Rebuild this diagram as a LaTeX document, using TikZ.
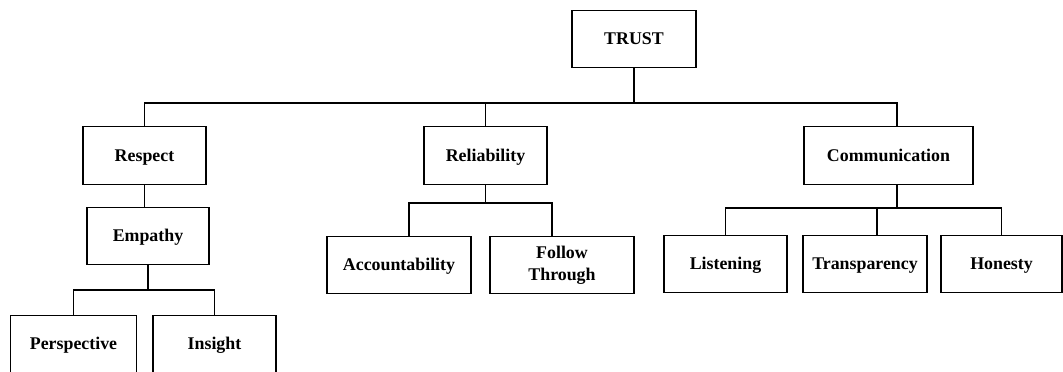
\documentclass[tikz,border=0pt]{standalone}
\usepackage{fontspec}
\setmainfont{Liberation Serif}
\usetikzlibrary{calc}

\begin{document}
\begin{tikzpicture}[x=0.025cm, y=-0.025cm,
  box/.style={draw, line width=0.8pt, minimum height=1.43cm, inner sep=2pt,
    font=\fontsize{12.7}{15.6}\selectfont\bfseries, align=center,
    text height=1.0em, text depth=0.16em},
  link/.style={line width=0.8pt}]
\useasboundingbox (0,0) rectangle (1063,371);

% top level
\node[box, minimum width=3.1cm] (trust) at (634,39) {TRUST};

% second level
\node[box, minimum width=3.075cm] (respect) at (144.5,155.5) {Respect};
\node[box, minimum width=3.075cm] (reliab) at (485.5,155.5) {Reliability};
\node[box, minimum width=4.225cm] (comm) at (888.5,155.5) {Communication};

% third level
\node[box, minimum width=3.05cm] (empathy) at (148,236) {Empathy};
\node[box, minimum width=3.6cm] (acc) at (399,265) {Accountability};
\node[box, minimum width=3.6cm, text height=, text depth=] (follow) at (562,265) {Follow\\Through};
\node[box, minimum width=3.075cm] (listen) at (725.5,264) {Listening};
\node[box, minimum width=3.1cm] (transp) at (865,264) {Transparency};
\node[box, minimum width=3.025cm] (honesty) at (1001.5,264) {Honesty};

% fourth level
\node[box, minimum width=3.15cm] (persp) at (73.5,344) {Perspective};
\node[box, minimum width=3.075cm] (insight) at (214.5,344) {Insight};

% bars
\coordinate (bar) at (0,103);
\coordinate (ebar) at (0,290);
\coordinate (rbar) at (0,203);
\coordinate (cbar) at (0,208);

\draw[link] (trust.south) -- (trust.south |- bar);
\draw[link] (respect.north) -- (respect.north |- bar) -- ($(comm.north |- bar)+(8.5,0)$) -- ($(comm.north)+(8.5,0)$);
\draw[link] (reliab.north) -- (reliab.north |- bar);

\draw[link] (respect.south) -- (empathy.north -| respect.south);
\draw[link] (empathy.south) -- (empathy.south |- ebar);
\draw[link] (persp.north) -- (persp.north |- ebar) -- (insight.north |- ebar) -- (insight.north);

\draw[link] (reliab.south) -- (reliab.south |- rbar);
\draw[link] ($(acc.north)+(10,0)$) -- ($(acc.north |- rbar)+(10,0)$) -- ($(follow.north |- rbar)+(-10,0)$) -- ($(follow.north)+(-10,0)$);

\draw[link] ($(comm.south)+(8.5,0)$) -- ($(comm.south |- cbar)+(8.5,0)$);
\draw[link] (listen.north) -- (listen.north |- cbar) -- (honesty.north |- cbar) -- (honesty.north);
\draw[link] ($(transp.north)+(12,0)$) -- ($(transp.north |- cbar)+(12,0)$);
\end{tikzpicture}
\end{document}
